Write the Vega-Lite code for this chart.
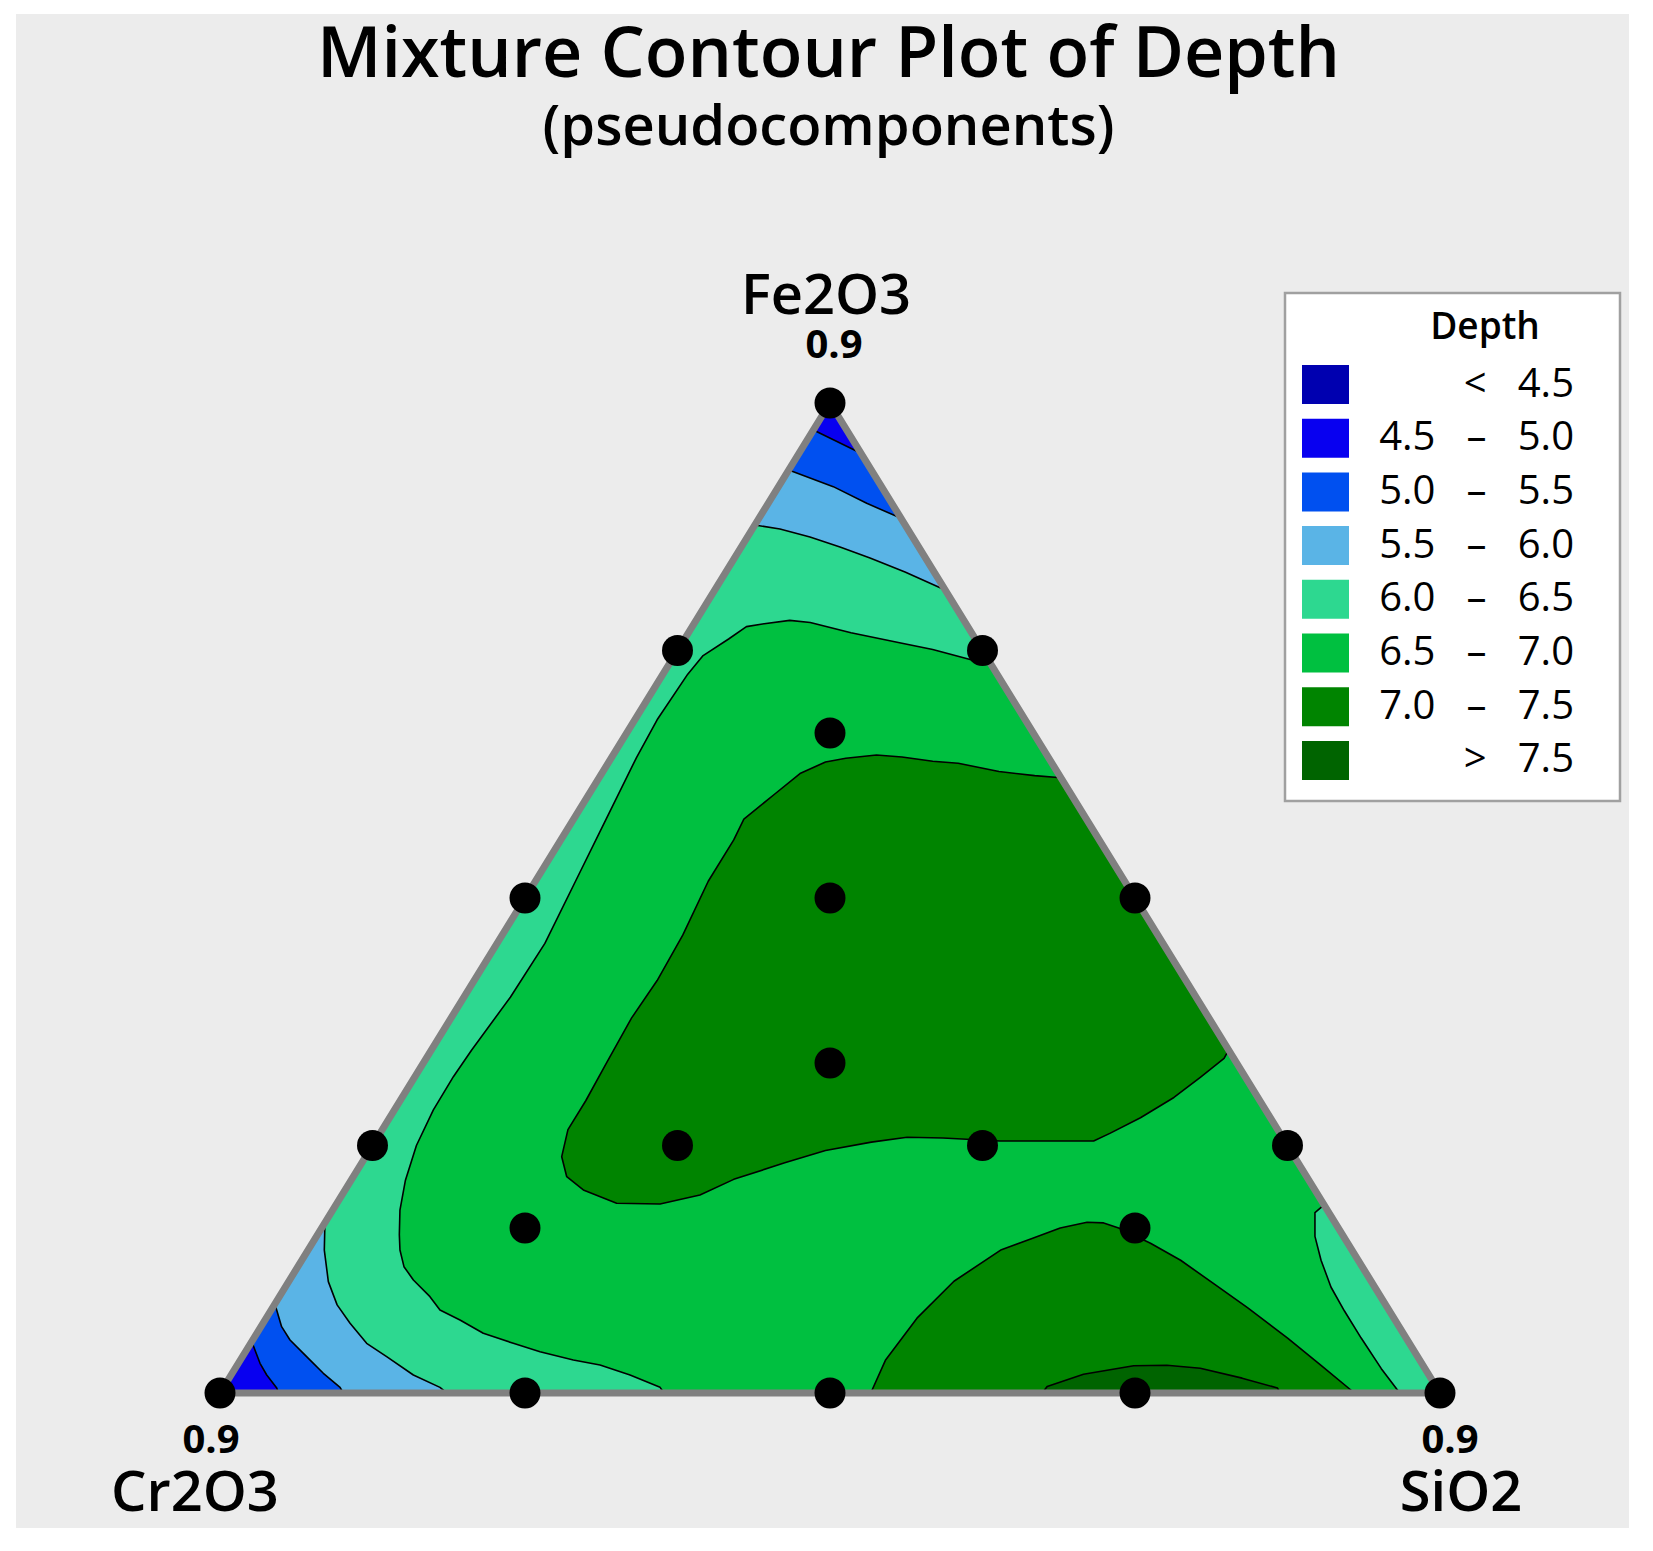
{
  "$schema": "https://vega.github.io/schema/vega-lite/v6.json",
  "width": 1653,
  "height": 1551,
  "autosize": {"type": "fit", "contains": "padding"},
  "padding": {"left": 16, "top": 14, "right": 24, "bottom": 23},
  "background": "white",
  "config": {"view": {"stroke": null, "fill": "#ececec"}, "font": "Open Sans", "axis": {"disable": true}},
  "title": {"text": "Mixture Contour Plot of Depth", "subtitle": "(pseudocomponents)", "anchor": "middle", "frame": "group", "offset": -143, "font": "Open Sans", "fontSize": 70, "fontWeight": 600, "color": "black", "subtitleFont": "Open Sans", "subtitleFontSize": 56, "subtitleFontWeight": 600, "subtitleColor": "black", "subtitlePadding": 9, "dx": 6},
  "datasets": {
    "contours": [
      {"region": "base", "band": "6.0 – 6.5", "order": 0, "x": 0, "y": 0},
      {"region": "base", "band": "6.0 – 6.5", "order": 1, "x": 1, "y": 0},
      {"region": "base", "band": "6.0 – 6.5", "order": 2, "x": 0.5, "y": 1},

      {"region": "r65", "band": "6.5 – 7.0", "order": 0, "x": 0.6325, "y": 0.735},
      {"region": "r65", "band": "6.5 – 7.0", "order": 1, "x": 0.5842, "y": 0.7511},
      {"region": "r65", "band": "6.5 – 7.0", "order": 2, "x": 0.559, "y": 0.7574},
      {"region": "r65", "band": "6.5 – 7.0", "order": 3, "x": 0.5172, "y": 0.7679},
      {"region": "r65", "band": "6.5 – 7.0", "order": 4, "x": 0.4838, "y": 0.7783},
      {"region": "r65", "band": "6.5 – 7.0", "order": 5, "x": 0.467, "y": 0.7804},
      {"region": "r65", "band": "6.5 – 7.0", "order": 6, "x": 0.4461, "y": 0.7771},
      {"region": "r65", "band": "6.5 – 7.0", "order": 7, "x": 0.4315, "y": 0.7741},
      {"region": "r65", "band": "6.5 – 7.0", "order": 8, "x": 0.4169, "y": 0.7616},
      {"region": "r65", "band": "6.5 – 7.0", "order": 9, "x": 0.396, "y": 0.7449},
      {"region": "r65", "band": "6.5 – 7.0", "order": 10, "x": 0.3834, "y": 0.7261},
      {"region": "r65", "band": "6.5 – 7.0", "order": 11, "x": 0.3583, "y": 0.68},
      {"region": "r65", "band": "6.5 – 7.0", "order": 12, "x": 0.3416, "y": 0.6424},
      {"region": "r65", "band": "6.5 – 7.0", "order": 13, "x": 0.3165, "y": 0.5797},
      {"region": "r65", "band": "6.5 – 7.0", "order": 14, "x": 0.2914, "y": 0.5169},
      {"region": "r65", "band": "6.5 – 7.0", "order": 15, "x": 0.2663, "y": 0.4541},
      {"region": "r65", "band": "6.5 – 7.0", "order": 16, "x": 0.238, "y": 0.3998},
      {"region": "r65", "band": "6.5 – 7.0", "order": 17, "x": 0.2063, "y": 0.3465},
      {"region": "r65", "band": "6.5 – 7.0", "order": 18, "x": 0.1913, "y": 0.3195},
      {"region": "r65", "band": "6.5 – 7.0", "order": 19, "x": 0.1749, "y": 0.2859},
      {"region": "r65", "band": "6.5 – 7.0", "order": 20, "x": 0.161, "y": 0.25},
      {"region": "r65", "band": "6.5 – 7.0", "order": 21, "x": 0.152, "y": 0.215},
      {"region": "r65", "band": "6.5 – 7.0", "order": 22, "x": 0.1475, "y": 0.1848},
      {"region": "r65", "band": "6.5 – 7.0", "order": 23, "x": 0.147, "y": 0.16},
      {"region": "r65", "band": "6.5 – 7.0", "order": 24, "x": 0.1475, "y": 0.1444},
      {"region": "r65", "band": "6.5 – 7.0", "order": 25, "x": 0.1508, "y": 0.1276},
      {"region": "r65", "band": "6.5 – 7.0", "order": 26, "x": 0.1585, "y": 0.1141},
      {"region": "r65", "band": "6.5 – 7.0", "order": 27, "x": 0.1721, "y": 0.0973},
      {"region": "r65", "band": "6.5 – 7.0", "order": 28, "x": 0.1803, "y": 0.0838},
      {"region": "r65", "band": "6.5 – 7.0", "order": 29, "x": 0.1967, "y": 0.0737},
      {"region": "r65", "band": "6.5 – 7.0", "order": 30, "x": 0.2158, "y": 0.0603},
      {"region": "r65", "band": "6.5 – 7.0", "order": 31, "x": 0.2404, "y": 0.0502},
      {"region": "r65", "band": "6.5 – 7.0", "order": 32, "x": 0.2623, "y": 0.0417},
      {"region": "r65", "band": "6.5 – 7.0", "order": 33, "x": 0.2896, "y": 0.0333},
      {"region": "r65", "band": "6.5 – 7.0", "order": 34, "x": 0.3115, "y": 0.0283},
      {"region": "r65", "band": "6.5 – 7.0", "order": 35, "x": 0.3361, "y": 0.0182},
      {"region": "r65", "band": "6.5 – 7.0", "order": 36, "x": 0.3607, "y": 0.0057},
      {"region": "r65", "band": "6.5 – 7.0", "order": 37, "x": 0.364, "y": 0},
      {"region": "r65", "band": "6.5 – 7.0", "order": 38, "x": 0.967, "y": 0},
      {"region": "r65", "band": "6.5 – 7.0", "order": 39, "x": 0.9519, "y": 0.0246},
      {"region": "r65", "band": "6.5 – 7.0", "order": 40, "x": 0.9354, "y": 0.0555},
      {"region": "r65", "band": "6.5 – 7.0", "order": 41, "x": 0.9217, "y": 0.0828},
      {"region": "r65", "band": "6.5 – 7.0", "order": 42, "x": 0.9107, "y": 0.1068},
      {"region": "r65", "band": "6.5 – 7.0", "order": 43, "x": 0.9025, "y": 0.1341},
      {"region": "r65", "band": "6.5 – 7.0", "order": 44, "x": 0.8975, "y": 0.1582},
      {"region": "r65", "band": "6.5 – 7.0", "order": 45, "x": 0.8975, "y": 0.1821},
      {"region": "r65", "band": "6.5 – 7.0", "order": 46, "x": 0.905, "y": 0.19},
      {"region": "r65", "band": "6.5 – 7.0", "order": 47, "x": 0.6325, "y": 0.735},

      {"region": "r70a", "band": "7.0 – 7.5", "order": 0, "x": 0.6892, "y": 0.6215},
      {"region": "r70a", "band": "7.0 – 7.5", "order": 1, "x": 0.6678, "y": 0.6236},
      {"region": "r70a", "band": "7.0 – 7.5", "order": 2, "x": 0.6385, "y": 0.6278},
      {"region": "r70a", "band": "7.0 – 7.5", "order": 3, "x": 0.6051, "y": 0.6361},
      {"region": "r70a", "band": "7.0 – 7.5", "order": 4, "x": 0.5842, "y": 0.6382},
      {"region": "r70a", "band": "7.0 – 7.5", "order": 5, "x": 0.559, "y": 0.6424},
      {"region": "r70a", "band": "7.0 – 7.5", "order": 6, "x": 0.5381, "y": 0.6445},
      {"region": "r70a", "band": "7.0 – 7.5", "order": 7, "x": 0.513, "y": 0.6411},
      {"region": "r70a", "band": "7.0 – 7.5", "order": 8, "x": 0.4963, "y": 0.6374},
      {"region": "r70a", "band": "7.0 – 7.5", "order": 9, "x": 0.4754, "y": 0.6257},
      {"region": "r70a", "band": "7.0 – 7.5", "order": 10, "x": 0.4545, "y": 0.6048},
      {"region": "r70a", "band": "7.0 – 7.5", "order": 11, "x": 0.4294, "y": 0.5797},
      {"region": "r70a", "band": "7.0 – 7.5", "order": 12, "x": 0.4211, "y": 0.5587},
      {"region": "r70a", "band": "7.0 – 7.5", "order": 13, "x": 0.4002, "y": 0.5169},
      {"region": "r70a", "band": "7.0 – 7.5", "order": 14, "x": 0.3793, "y": 0.4625},
      {"region": "r70a", "band": "7.0 – 7.5", "order": 15, "x": 0.3583, "y": 0.4166},
      {"region": "r70a", "band": "7.0 – 7.5", "order": 16, "x": 0.3374, "y": 0.3789},
      {"region": "r70a", "band": "7.0 – 7.5", "order": 17, "x": 0.3165, "y": 0.3328},
      {"region": "r70a", "band": "7.0 – 7.5", "order": 18, "x": 0.2998, "y": 0.2952},
      {"region": "r70a", "band": "7.0 – 7.5", "order": 19, "x": 0.2852, "y": 0.266},
      {"region": "r70a", "band": "7.0 – 7.5", "order": 20, "x": 0.2801, "y": 0.2387},
      {"region": "r70a", "band": "7.0 – 7.5", "order": 21, "x": 0.2842, "y": 0.2185},
      {"region": "r70a", "band": "7.0 – 7.5", "order": 22, "x": 0.2978, "y": 0.2051},
      {"region": "r70a", "band": "7.0 – 7.5", "order": 23, "x": 0.3251, "y": 0.1916},
      {"region": "r70a", "band": "7.0 – 7.5", "order": 24, "x": 0.3607, "y": 0.1909},
      {"region": "r70a", "band": "7.0 – 7.5", "order": 25, "x": 0.3934, "y": 0.2},
      {"region": "r70a", "band": "7.0 – 7.5", "order": 26, "x": 0.4211, "y": 0.2158},
      {"region": "r70a", "band": "7.0 – 7.5", "order": 27, "x": 0.4629, "y": 0.2325},
      {"region": "r70a", "band": "7.0 – 7.5", "order": 28, "x": 0.4963, "y": 0.245},
      {"region": "r70a", "band": "7.0 – 7.5", "order": 29, "x": 0.5339, "y": 0.2534},
      {"region": "r70a", "band": "7.0 – 7.5", "order": 30, "x": 0.5632, "y": 0.2584},
      {"region": "r70a", "band": "7.0 – 7.5", "order": 31, "x": 0.5925, "y": 0.2576},
      {"region": "r70a", "band": "7.0 – 7.5", "order": 32, "x": 0.6393, "y": 0.2545},
      {"region": "r70a", "band": "7.0 – 7.5", "order": 33, "x": 0.7161, "y": 0.2545},
      {"region": "r70a", "band": "7.0 – 7.5", "order": 34, "x": 0.7298, "y": 0.2625},
      {"region": "r70a", "band": "7.0 – 7.5", "order": 35, "x": 0.7545, "y": 0.278},
      {"region": "r70a", "band": "7.0 – 7.5", "order": 36, "x": 0.7819, "y": 0.2985},
      {"region": "r70a", "band": "7.0 – 7.5", "order": 37, "x": 0.8038, "y": 0.3191},
      {"region": "r70a", "band": "7.0 – 7.5", "order": 38, "x": 0.823, "y": 0.3379},
      {"region": "r70a", "band": "7.0 – 7.5", "order": 39, "x": 0.8268, "y": 0.3465},
      {"region": "r70a", "band": "7.0 – 7.5", "order": 40, "x": 0.6892, "y": 0.6215},

      {"region": "r70b", "band": "7.0 – 7.5", "order": 0, "x": 0.5334, "y": 0},
      {"region": "r70b", "band": "7.0 – 7.5", "order": 1, "x": 0.5454, "y": 0.033},
      {"region": "r70b", "band": "7.0 – 7.5", "order": 2, "x": 0.5713, "y": 0.0756},
      {"region": "r70b", "band": "7.0 – 7.5", "order": 3, "x": 0.6016, "y": 0.1129},
      {"region": "r70b", "band": "7.0 – 7.5", "order": 4, "x": 0.6405, "y": 0.1448},
      {"region": "r70b", "band": "7.0 – 7.5", "order": 5, "x": 0.6667, "y": 0.1565},
      {"region": "r70b", "band": "7.0 – 7.5", "order": 6, "x": 0.6887, "y": 0.1667},
      {"region": "r70b", "band": "7.0 – 7.5", "order": 7, "x": 0.7107, "y": 0.1725},
      {"region": "r70b", "band": "7.0 – 7.5", "order": 8, "x": 0.7243, "y": 0.1718},
      {"region": "r70b", "band": "7.0 – 7.5", "order": 9, "x": 0.7366, "y": 0.1667},
      {"region": "r70b", "band": "7.0 – 7.5", "order": 10, "x": 0.7627, "y": 0.1513},
      {"region": "r70b", "band": "7.0 – 7.5", "order": 11, "x": 0.7874, "y": 0.1341},
      {"region": "r70b", "band": "7.0 – 7.5", "order": 12, "x": 0.8148, "y": 0.1102},
      {"region": "r70b", "band": "7.0 – 7.5", "order": 13, "x": 0.8422, "y": 0.0863},
      {"region": "r70b", "band": "7.0 – 7.5", "order": 14, "x": 0.8751, "y": 0.0555},
      {"region": "r70b", "band": "7.0 – 7.5", "order": 15, "x": 0.9025, "y": 0.028},
      {"region": "r70b", "band": "7.0 – 7.5", "order": 16, "x": 0.9299, "y": 0},
      {"region": "r70b", "band": "7.0 – 7.5", "order": 17, "x": 0.5334, "y": 0},

      {"region": "r75", "band": "> 7.5", "order": 0, "x": 0.674, "y": 0},
      {"region": "r75", "band": "> 7.5", "order": 1, "x": 0.678, "y": 0.0065},
      {"region": "r75", "band": "> 7.5", "order": 2, "x": 0.7078, "y": 0.019},
      {"region": "r75", "band": "> 7.5", "order": 3, "x": 0.7489, "y": 0.0275},
      {"region": "r75", "band": "> 7.5", "order": 4, "x": 0.7761, "y": 0.028},
      {"region": "r75", "band": "> 7.5", "order": 5, "x": 0.8035, "y": 0.025},
      {"region": "r75", "band": "> 7.5", "order": 6, "x": 0.8378, "y": 0.015},
      {"region": "r75", "band": "> 7.5", "order": 7, "x": 0.8668, "y": 0.005},
      {"region": "r75", "band": "> 7.5", "order": 8, "x": 0.869, "y": 0},
      {"region": "r75", "band": "> 7.5", "order": 9, "x": 0.674, "y": 0},

      {"region": "r55top", "band": "5.5 – 6.0", "order": 0, "x": 0.4384, "y": 0.8768},
      {"region": "r55top", "band": "5.5 – 6.0", "order": 1, "x": 0.459, "y": 0.8727},
      {"region": "r55top", "band": "5.5 – 6.0", "order": 2, "x": 0.4836, "y": 0.8646},
      {"region": "r55top", "band": "5.5 – 6.0", "order": 3, "x": 0.5082, "y": 0.8545},
      {"region": "r55top", "band": "5.5 – 6.0", "order": 4, "x": 0.5328, "y": 0.8434},
      {"region": "r55top", "band": "5.5 – 6.0", "order": 5, "x": 0.5615, "y": 0.8293},
      {"region": "r55top", "band": "5.5 – 6.0", "order": 6, "x": 0.5944, "y": 0.8111},
      {"region": "r55top", "band": "5.5 – 6.0", "order": 7, "x": 0.5, "y": 1},
      {"region": "r55top", "band": "5.5 – 6.0", "order": 8, "x": 0.4384, "y": 0.8768},

      {"region": "r55bl", "band": "5.5 – 6.0", "order": 0, "x": 0.086, "y": 0.172},
      {"region": "r55bl", "band": "5.5 – 6.0", "order": 1, "x": 0.0855, "y": 0.1444},
      {"region": "r55bl", "band": "5.5 – 6.0", "order": 2, "x": 0.0888, "y": 0.1125},
      {"region": "r55bl", "band": "5.5 – 6.0", "order": 3, "x": 0.096, "y": 0.089},
      {"region": "r55bl", "band": "5.5 – 6.0", "order": 4, "x": 0.1066, "y": 0.0704},
      {"region": "r55bl", "band": "5.5 – 6.0", "order": 5, "x": 0.1202, "y": 0.0502},
      {"region": "r55bl", "band": "5.5 – 6.0", "order": 6, "x": 0.1366, "y": 0.0367},
      {"region": "r55bl", "band": "5.5 – 6.0", "order": 7, "x": 0.1585, "y": 0.0182},
      {"region": "r55bl", "band": "5.5 – 6.0", "order": 8, "x": 0.1803, "y": 0.0057},
      {"region": "r55bl", "band": "5.5 – 6.0", "order": 9, "x": 0.186, "y": 0},
      {"region": "r55bl", "band": "5.5 – 6.0", "order": 10, "x": 0, "y": 0},
      {"region": "r55bl", "band": "5.5 – 6.0", "order": 11, "x": 0.086, "y": 0.172},

      {"region": "r50top", "band": "5.0 – 5.5", "order": 0, "x": 0.4662, "y": 0.9323},
      {"region": "r50top", "band": "5.0 – 5.5", "order": 1, "x": 0.5027, "y": 0.9155},
      {"region": "r50top", "band": "5.0 – 5.5", "order": 2, "x": 0.5301, "y": 0.8987},
      {"region": "r50top", "band": "5.0 – 5.5", "order": 3, "x": 0.5583, "y": 0.8835},
      {"region": "r50top", "band": "5.0 – 5.5", "order": 4, "x": 0.5, "y": 1},
      {"region": "r50top", "band": "5.0 – 5.5", "order": 5, "x": 0.4662, "y": 0.9323},

      {"region": "r50bl", "band": "5.0 – 5.5", "order": 0, "x": 0.045, "y": 0.09},
      {"region": "r50bl", "band": "5.0 – 5.5", "order": 1, "x": 0.0505, "y": 0.067},
      {"region": "r50bl", "band": "5.0 – 5.5", "order": 2, "x": 0.0574, "y": 0.0535},
      {"region": "r50bl", "band": "5.0 – 5.5", "order": 3, "x": 0.071, "y": 0.0367},
      {"region": "r50bl", "band": "5.0 – 5.5", "order": 4, "x": 0.0847, "y": 0.0199},
      {"region": "r50bl", "band": "5.0 – 5.5", "order": 5, "x": 0.0984, "y": 0.0057},
      {"region": "r50bl", "band": "5.0 – 5.5", "order": 6, "x": 0.101, "y": 0},
      {"region": "r50bl", "band": "5.0 – 5.5", "order": 7, "x": 0, "y": 0},
      {"region": "r50bl", "band": "5.0 – 5.5", "order": 8, "x": 0.045, "y": 0.09},

      {"region": "r45top", "band": "4.5 – 5.0", "order": 0, "x": 0.4864, "y": 0.9727},
      {"region": "r45top", "band": "4.5 – 5.0", "order": 1, "x": 0.5254, "y": 0.9492},
      {"region": "r45top", "band": "4.5 – 5.0", "order": 2, "x": 0.5, "y": 1},
      {"region": "r45top", "band": "4.5 – 5.0", "order": 3, "x": 0.4864, "y": 0.9727},

      {"region": "r45bl", "band": "4.5 – 5.0", "order": 0, "x": 0.026, "y": 0.052},
      {"region": "r45bl", "band": "4.5 – 5.0", "order": 1, "x": 0.0328, "y": 0.03},
      {"region": "r45bl", "band": "4.5 – 5.0", "order": 2, "x": 0.0383, "y": 0.0182},
      {"region": "r45bl", "band": "4.5 – 5.0", "order": 3, "x": 0.0465, "y": 0.005},
      {"region": "r45bl", "band": "4.5 – 5.0", "order": 4, "x": 0.048, "y": 0},
      {"region": "r45bl", "band": "4.5 – 5.0", "order": 5, "x": 0, "y": 0},
      {"region": "r45bl", "band": "4.5 – 5.0", "order": 6, "x": 0.026, "y": 0.052}
    ],
    "frame": [
      {"order": 0, "x": 0, "y": 0},
      {"order": 1, "x": 1, "y": 0},
      {"order": 2, "x": 0.5, "y": 1},
      {"order": 3, "x": 0, "y": 0}
    ],
    "vertices": [
      {"component": "Fe2O3", "upper": 0.9, "x": 0.5, "y": 1},
      {"component": "Cr2O3", "upper": 0.9, "x": 0, "y": 0},
      {"component": "SiO2", "upper": 0.9, "x": 1, "y": 0}
    ],
    "design": [
      {"Fe2O3": 1, "Cr2O3": 0, "SiO2": 0, "x": 0.5, "y": 1},
      {"Fe2O3": 0, "Cr2O3": 1, "SiO2": 0, "x": 0, "y": 0},
      {"Fe2O3": 0, "Cr2O3": 0, "SiO2": 1, "x": 1, "y": 0},
      {"Fe2O3": 0.75, "Cr2O3": 0.25, "SiO2": 0, "x": 0.375, "y": 0.75},
      {"Fe2O3": 0.5, "Cr2O3": 0.5, "SiO2": 0, "x": 0.25, "y": 0.5},
      {"Fe2O3": 0.25, "Cr2O3": 0.75, "SiO2": 0, "x": 0.125, "y": 0.25},
      {"Fe2O3": 0.75, "Cr2O3": 0, "SiO2": 0.25, "x": 0.625, "y": 0.75},
      {"Fe2O3": 0.5, "Cr2O3": 0, "SiO2": 0.5, "x": 0.75, "y": 0.5},
      {"Fe2O3": 0.25, "Cr2O3": 0, "SiO2": 0.75, "x": 0.875, "y": 0.25},
      {"Fe2O3": 0, "Cr2O3": 0.75, "SiO2": 0.25, "x": 0.25, "y": 0},
      {"Fe2O3": 0, "Cr2O3": 0.5, "SiO2": 0.5, "x": 0.5, "y": 0},
      {"Fe2O3": 0, "Cr2O3": 0.25, "SiO2": 0.75, "x": 0.75, "y": 0},
      {"Fe2O3": 0.6667, "Cr2O3": 0.1667, "SiO2": 0.1667, "x": 0.5, "y": 0.6667},
      {"Fe2O3": 0.5, "Cr2O3": 0.25, "SiO2": 0.25, "x": 0.5, "y": 0.5},
      {"Fe2O3": 0.3333, "Cr2O3": 0.3333, "SiO2": 0.3333, "x": 0.5, "y": 0.3333},
      {"Fe2O3": 0.25, "Cr2O3": 0.5, "SiO2": 0.25, "x": 0.375, "y": 0.25},
      {"Fe2O3": 0.25, "Cr2O3": 0.25, "SiO2": 0.5, "x": 0.625, "y": 0.25},
      {"Fe2O3": 0.1667, "Cr2O3": 0.6667, "SiO2": 0.1667, "x": 0.25, "y": 0.1667},
      {"Fe2O3": 0.1667, "Cr2O3": 0.1667, "SiO2": 0.6667, "x": 0.75, "y": 0.1667}
    ]
  },
  "encoding": {
    "x": {"field": "x", "type": "quantitative", "scale": {"domain": [-0.167213, 1.154918], "nice": false, "zero": false}, "axis": null},
    "y": {"field": "y", "type": "quantitative", "scale": {"domain": [-0.136364, 1.392929], "nice": false, "zero": false}, "axis": null}
  },
  "layer": [
    {
      "data": {"name": "contours"},
      "transform": [{"filter": {"field": "region", "oneOf": ["base"]}}],
      "mark": {"type": "line", "filled": true, "strokeWidth": 0},
      "encoding": {
        "color": {"field": "band", "type": "nominal",
          "scale": {"domain": ["< 4.5", "4.5 – 5.0", "5.0 – 5.5", "5.5 – 6.0", "6.0 – 6.5", "6.5 – 7.0", "7.0 – 7.5", "> 7.5"], "range": ["#0000b0", "#0800f0", "#0050f0", "#5ab4e6", "#2dd890", "#00c040", "#008400", "#006400"]},
          "legend": {"orient": "none", "legendX": 1269, "legendY": 279, "title": "Depth", "titleFont": "Open Sans", "titleFontSize": 37, "titleFontWeight": 600, "titleColor": "black", "titleAnchor": "middle", "titlePadding": 14, "padding": 17, "fillColor": "white", "strokeColor": "#a0a0a0", "symbolType": "M-1,-0.83H1V0.83H-1Z", "symbolSize": 2209, "symbolStrokeWidth": 0, "symbolOpacity": 1, "labelFont": "Open Sans", "labelFontSize": 40, "labelColor": "black", "labelAlign": "right", "labelOffset": 254, "labelLimit": 400, "clipHeight": 47, "rowPadding": 6.7, "labelExpr": "replace(datum.label, regexp(' ', 'g'), '\u00a0\u00a0\u00a0') + '\u2800'", "encode": {"title": {"update": {"dx": {"value": 32}}}, "legend": {"update": {"strokeWidth": {"value": 2.5}}}}}
        },
        "detail": {"field": "region"},
        "order": {"field": "order", "type": "quantitative"}
      }
    },
    {
      "data": {"name": "contours"},
      "transform": [{"filter": {"field": "region", "oneOf": ["r65"]}}],
      "mark": {"type": "line", "filled": true, "stroke": "black", "strokeWidth": 1.6, "strokeJoin": "round"},
      "encoding": {
        "color": {"field": "band", "type": "nominal"},
        "detail": {"field": "region"},
        "order": {"field": "order", "type": "quantitative"}
      }
    },
    {
      "data": {"name": "contours"},
      "transform": [{"filter": {"field": "region", "oneOf": ["r70a", "r70b"]}}],
      "mark": {"type": "line", "filled": true, "stroke": "black", "strokeWidth": 1.6, "strokeJoin": "round"},
      "encoding": {
        "color": {"field": "band", "type": "nominal"},
        "detail": {"field": "region"},
        "order": {"field": "order", "type": "quantitative"}
      }
    },
    {
      "data": {"name": "contours"},
      "transform": [{"filter": {"field": "region", "oneOf": ["r75"]}}],
      "mark": {"type": "line", "filled": true, "stroke": "black", "strokeWidth": 1.6, "strokeJoin": "round"},
      "encoding": {
        "color": {"field": "band", "type": "nominal"},
        "detail": {"field": "region"},
        "order": {"field": "order", "type": "quantitative"}
      }
    },
    {
      "data": {"name": "contours"},
      "transform": [{"filter": {"field": "region", "oneOf": ["r55top", "r55bl"]}}],
      "mark": {"type": "line", "filled": true, "stroke": "black", "strokeWidth": 1.6, "strokeJoin": "round"},
      "encoding": {
        "color": {"field": "band", "type": "nominal"},
        "detail": {"field": "region"},
        "order": {"field": "order", "type": "quantitative"}
      }
    },
    {
      "data": {"name": "contours"},
      "transform": [{"filter": {"field": "region", "oneOf": ["r50top", "r50bl"]}}],
      "mark": {"type": "line", "filled": true, "stroke": "black", "strokeWidth": 1.6, "strokeJoin": "round"},
      "encoding": {
        "color": {"field": "band", "type": "nominal"},
        "detail": {"field": "region"},
        "order": {"field": "order", "type": "quantitative"}
      }
    },
    {
      "data": {"name": "contours"},
      "transform": [{"filter": {"field": "region", "oneOf": ["r45top", "r45bl"]}}],
      "mark": {"type": "line", "filled": true, "stroke": "black", "strokeWidth": 1.6, "strokeJoin": "round"},
      "encoding": {
        "color": {"field": "band", "type": "nominal"},
        "detail": {"field": "region"},
        "order": {"field": "order", "type": "quantitative"}
      }
    },
    {
      "data": {"name": "frame"},
      "mark": {"type": "line", "color": "#808080", "strokeWidth": 7, "strokeJoin": "miter"},
      "encoding": {"order": {"field": "order", "type": "quantitative"}}
    },
    {
      "data": {"name": "design"},
      "mark": {"type": "point", "filled": true, "color": "black", "size": 960, "opacity": 1, "shape": "circle"}
    },
    {
      "data": {"name": "vertices"},
      "transform": [{"filter": "datum.component == 'Fe2O3'"}],
      "mark": {"type": "text", "font": "Open Sans", "fontSize": 56, "fontWeight": 600, "align": "center", "baseline": "alphabetic", "color": "black", "dx": -4, "dy": -89},
      "encoding": {"text": {"field": "component", "type": "nominal"}}
    },
    {
      "data": {"name": "vertices"},
      "transform": [{"filter": "datum.component == 'Fe2O3'"}],
      "mark": {"type": "text", "font": "Open Sans", "fontSize": 40, "fontWeight": "bold", "align": "center", "baseline": "alphabetic", "color": "black", "dx": 4, "dy": -45},
      "encoding": {"text": {"field": "upper", "type": "quantitative", "format": ".1f"}}
    },
    {
      "data": {"name": "vertices"},
      "transform": [{"filter": "datum.component == 'Cr2O3'"}],
      "mark": {"type": "text", "font": "Open Sans", "fontSize": 40, "fontWeight": "bold", "align": "center", "baseline": "alphabetic", "color": "black", "dx": -9, "dy": 60},
      "encoding": {"text": {"field": "upper", "type": "quantitative", "format": ".1f"}}
    },
    {
      "data": {"name": "vertices"},
      "transform": [{"filter": "datum.component == 'Cr2O3'"}],
      "mark": {"type": "text", "font": "Open Sans", "fontSize": 56, "fontWeight": 600, "align": "center", "baseline": "alphabetic", "color": "black", "dx": -25, "dy": 118},
      "encoding": {"text": {"field": "component", "type": "nominal"}}
    },
    {
      "data": {"name": "vertices"},
      "transform": [{"filter": "datum.component == 'SiO2'"}],
      "mark": {"type": "text", "font": "Open Sans", "fontSize": 40, "fontWeight": "bold", "align": "center", "baseline": "alphabetic", "color": "black", "dx": 10, "dy": 60},
      "encoding": {"text": {"field": "upper", "type": "quantitative", "format": ".1f"}}
    },
    {
      "data": {"name": "vertices"},
      "transform": [{"filter": "datum.component == 'SiO2'"}],
      "mark": {"type": "text", "font": "Open Sans", "fontSize": 56, "fontWeight": 600, "align": "center", "baseline": "alphabetic", "color": "black", "dx": 21, "dy": 118},
      "encoding": {"text": {"field": "component", "type": "nominal"}}
    }
  ]
}
